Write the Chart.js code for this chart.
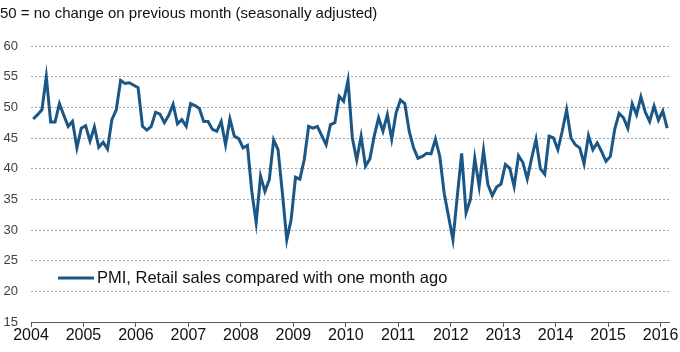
<!DOCTYPE html>
<html>
<head>
<meta charset="utf-8">
<script src="https://cdn.jsdelivr.net/npm/chart.js@4.4.0/dist/chart.umd.min.js"></script>
<style>
  html, body { margin: 0; padding: 0; background: #fff; }
  #wrap { width: 680px; height: 352px; }
</style>
</head>
<body>
<div id="wrap"><canvas id="chart"></canvas></div>
<script>
// monthly series, Jan 2004 - Feb 2016
const startYear = 2004;
const seriesLabel = "PMI, Retail sales compared with one month ago";
const pmiRetail = [
    48.1, 48.8, 49.6, 55.0, 47.6, 47.6, 50.6, 48.7, 46.9, 47.7, 43.4, 46.6,
    47.0, 44.5, 46.8, 43.5, 44.3, 43.2, 48.0, 49.6, 54.4, 53.9, 54.0, 53.6,
    53.2, 46.9, 46.3, 46.9, 49.2, 48.9, 47.5, 48.7, 50.5, 47.3, 48.0, 46.9,
    50.6, 50.3, 49.8, 47.7, 47.7, 46.4, 46.1, 47.7, 43.9, 48.1, 45.3, 44.9,
    43.4, 43.8, 36.3, 31.2, 38.8, 36.3, 38.2, 44.7, 43.1, 36.0, 28.4, 31.7,
    38.6, 38.3, 41.5, 46.9, 46.6, 46.9, 45.4, 43.9, 47.2, 47.5, 51.8, 51.0,
    54.4, 45.0, 41.4, 45.3, 40.4, 41.6, 45.3, 48.3, 46.1, 48.8, 44.8, 49.1,
    51.2, 50.6, 46.1, 43.4, 41.7, 42.0, 42.5, 42.4, 44.8, 42.0, 36.0, 32.2,
    28.4, 35.5, 42.5, 32.8, 35.0, 41.7, 37.1, 43.0, 37.4, 35.6, 37.0, 37.5,
    40.7, 40.1, 37.1, 42.1, 41.0, 38.3, 41.7, 44.8, 40.0, 39.1, 45.3, 45.0,
    43.1, 46.1, 49.6, 45.0, 43.9, 43.4, 40.8, 45.4, 43.1, 44.2, 42.8, 41.2,
    42.0, 46.4, 49.0, 48.3, 46.6, 50.6, 48.8, 51.7, 49.2, 47.7, 50.2, 47.9,
    49.4, 46.6
];
const yearTicks = [2004, 2005, 2006, 2007, 2008, 2009, 2010, 2011, 2012, 2013, 2014, 2015, 2016];
const yTicks = [15, 20, 25, 30, 35, 40, 45, 50, 55, 60];

const lineColor = "#1b5786";
const fontFamily = '"Liberation Sans", Arial, sans-serif';

// points sit in the middle of each month
const points = pmiRetail.map((v, i) => ({ x: startYear + (i + 0.5) / 12, y: v }));

// legend drawn inside the plot, bottom left
const insideLegend = {
    id: "insideLegend",
    afterDatasetsDraw(chart) {
        const { ctx, chartArea } = chart;
        const ds = chart.data.datasets[0];
        const x = chartArea.left + 27;
        const y = chartArea.bottom - 44;
        ctx.save();
        ctx.strokeStyle = ds.borderColor;
        ctx.lineWidth = 3;
        ctx.beginPath();
        ctx.moveTo(x, y);
        ctx.lineTo(x + 36, y);
        ctx.stroke();
        ctx.fillStyle = "#111";
        ctx.font = "16.5px " + fontFamily;
        ctx.textBaseline = "middle";
        ctx.fillText(ds.label, x + 39, y);
        ctx.restore();
    }
};

const ctx = document.getElementById("chart").getContext("2d");
const chart = new Chart(ctx, {
    type: "line",
    data: {
        datasets: [{
            label: seriesLabel,
            data: points,
            borderColor: lineColor,
            borderWidth: 3,
            pointRadius: 0,
            tension: 0,
            fill: false
        }]
    },
    options: {
        responsive: true,
        maintainAspectRatio: false,
        animation: false,
        layout: { padding: { left: 0, right: 11, top: 0, bottom: 0 } },
        plugins: {
            legend: { display: false },
            tooltip: { enabled: false },
            title: {
                display: true,
                text: "50 = no change on previous month (seasonally adjusted)",
                align: "start",
                color: "#111",
                font: { family: fontFamily, size: 15, weight: "normal" },
                padding: { top: 5, bottom: 23 }
            }
        },
        scales: {
            x: {
                type: "linear",
                min: 2004,
                max: 2016.16,
                afterBuildTicks: (scale) => {
                    scale.ticks = yearTicks.map(v => ({ value: v }));
                },
                afterFit: (scale) => { scale.height = 30; },
                ticks: {
                    autoSkip: false,
                    maxRotation: 0,
                    padding: 1,
                    color: "#111",
                    font: { family: fontFamily, size: 16, lineHeight: 1 },
                    callback: (v) => String(v)
                },
                grid: {
                    drawOnChartArea: false,
                    drawTicks: true,
                    tickLength: 5,
                    color: "#595959"
                },
                border: { display: true, color: "#595959", width: 1 }
            },
            y: {
                min: 15,
                max: 60,
                afterBuildTicks: (scale) => {
                    scale.ticks = yTicks.map(v => ({ value: v }));
                },
                afterFit: (scale) => { scale.width = 31; },
                ticks: {
                    padding: 13,
                    color: "#404040",
                    font: { family: fontFamily, size: 13 }
                },
                grid: {
                    drawTicks: false,
                    color: (c) => (c.tick && c.tick.value === 15 ? "rgba(0,0,0,0)" : "#a6a6a6"),
                    lineWidth: 1
                },
                border: { display: false, dash: [2, 2] }
            }
        }
    },
    plugins: [insideLegend]
});
</script>
</body>
</html>
